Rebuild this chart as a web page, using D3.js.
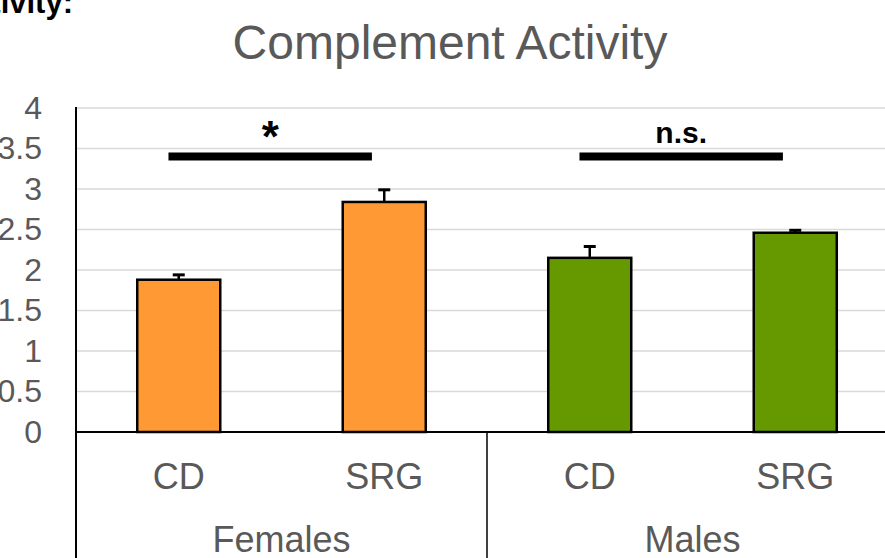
<!doctype html>
<html lang="en">
 <head>
   <meta charset="UTF-8">
   <title>Complement Activity</title>
   <script src="https://d3js.org/d3.v7.min.js"></script>
   <style>
     body { margin: 0; background: #fff; overflow: hidden; }
   </style>
 </head>
 <body>
   <div id="myDiv"></div>

 <script type="text/javascript">
   // chart data
   let categories = ["CD", "SRG", "CD", "SRG"];
   let groups = ["Females", "Males"];
   let values = [1.88, 2.84, 2.15, 2.46];
   let errors = [0.06, 0.15, 0.14, 0.03];
   let barColors = ["#FF9933", "#FF9933", "#669900", "#669900"];
   let yTicks = [0, 0.5, 1, 1.5, 2, 2.5, 3, 3.5, 4];
   // significance brackets: from / to in category index units, height in value units
   let sigFrom = [0.45, 2.45];
   let sigTo = [1.44, 3.44];
   let sigY = [3.4, 3.4];
   let sigLabels = ["*", "n.s."];

   let width = 885, height = 558;
   let font = "'Liberation Sans', Arial, sans-serif";

   let svg = d3.select("#myDiv").append("svg")
      .attr("width", width)
      .attr("height", height);

   // scales
   let x = d3.scaleLinear().domain([0, 4]).range([76, 898]);
   let y = d3.scaleLinear().domain([0, 4]).range([432, 108]);

   // cut-off text from the surrounding document
   svg.append("text")
      .attr("x", 73).attr("y", 13)
      .attr("text-anchor", "end")
      .attr("font-family", "'Liberation Sans Narrow', 'Liberation Sans', Arial, sans-serif")
      .attr("font-weight", "bold")
      .attr("font-size", "31px")
      .attr("fill", "#000")
      .text("Activity:");

   // title
   svg.append("text")
      .attr("x", 450).attr("y", 59)
      .attr("text-anchor", "middle")
      .attr("font-family", font)
      .attr("font-size", "48px")
      .attr("fill", "#595959")
      .text("Complement Activity");

   // gridlines
   svg.append("g").selectAll("line")
      .data(yTicks.filter(d => d > 0))
      .enter().append("line")
         .attr("x1", x(0)).attr("x2", width)
         .attr("y1", d => y(d)).attr("y2", d => y(d))
         .attr("stroke", "#d9d9d9")
         .attr("stroke-width", 1.5);

   // y axis
   let yAxis = d3.axisLeft(y).tickValues(yTicks).tickSize(0).tickPadding(34)
      .tickFormat(d3.format("~g"));
   let gy = svg.append("g")
      .attr("transform", "translate(" + x(0) + ",0)")
      .call(yAxis);
   gy.select(".domain").remove();
   gy.selectAll("text")
      .attr("font-family", font)
      .attr("font-size", "32px")
      .attr("fill", "#595959");

   // bars
   let barW = 0.404;
   svg.append("g").selectAll("rect")
      .data(values)
      .enter().append("rect")
         .attr("x", (d, i) => x(i + 0.5 - barW / 2))
         .attr("y", d => y(d))
         .attr("width", x(barW) - x(0))
         .attr("height", d => y(0) - y(d))
         .attr("fill", (d, i) => barColors[i])
         .attr("stroke", "#000")
         .attr("stroke-width", 2.5);

   // error bars
   let eb = svg.append("g").selectAll("g")
      .data(values)
      .enter().append("g");
   eb.append("line")
      .attr("x1", (d, i) => x(i + 0.5)).attr("x2", (d, i) => x(i + 0.5))
      .attr("y1", d => y(d)).attr("y2", (d, i) => y(d + errors[i]))
      .attr("stroke", "#000").attr("stroke-width", 2.5);
   eb.append("line")
      .attr("x1", (d, i) => x(i + 0.5) - 6).attr("x2", (d, i) => x(i + 0.5) + 6)
      .attr("y1", (d, i) => y(d + errors[i])).attr("y2", (d, i) => y(d + errors[i]))
      .attr("stroke", "#000").attr("stroke-width", 3);

   // significance bars
   svg.append("g").selectAll("line")
      .data(sigFrom)
      .enter().append("line")
         .attr("x1", d => x(d))
         .attr("x2", (d, i) => x(sigTo[i]))
         .attr("y1", (d, i) => y(sigY[i]))
         .attr("y2", (d, i) => y(sigY[i]))
         .attr("stroke", "#000")
         .attr("stroke-width", 8);
   svg.append("g").selectAll("text")
      .data(sigLabels)
      .enter().append("text")
         .attr("x", (d, i) => x((sigFrom[i] + sigTo[i]) / 2))
         .attr("y", (d, i) => d === "*" ? y(sigY[i]) - 5 : y(sigY[i]) - 14)
         .attr("text-anchor", "middle")
         .attr("font-family", font)
         .attr("font-weight", "bold")
         .attr("font-size", d => d === "*" ? "44px" : "30px")
         .attr("fill", "#000")
         .text(d => d);

   // category axis
   let axisG = svg.append("g").attr("stroke", "#000");
   axisG.append("line")
      .attr("x1", x(0)).attr("x2", width)
      .attr("y1", y(0)).attr("y2", y(0))
      .attr("stroke-width", 2);
   axisG.append("line")
      .attr("x1", x(0)).attr("x2", x(0))
      .attr("y1", y(4) - 1).attr("y2", height)
      .attr("stroke-width", 2);
   axisG.selectAll(".sep")
      .data(groups.slice(1))
      .enter().append("line")
         .attr("x1", (d, i) => x((i + 1) * 2)).attr("x2", (d, i) => x((i + 1) * 2))
         .attr("y1", y(0)).attr("y2", height)
         .attr("stroke-width", 1.5);

   svg.append("g").selectAll("text")
      .data(categories)
      .enter().append("text")
         .attr("x", (d, i) => x(i + 0.5))
         .attr("y", 489)
         .attr("text-anchor", "middle")
         .attr("font-family", font)
         .attr("font-size", "36px")
         .attr("fill", "#595959")
         .text(d => d);

   svg.append("g").selectAll("text")
      .data(groups)
      .enter().append("text")
         .attr("x", (d, i) => x(i * 2 + 1))
         .attr("y", 552)
         .attr("text-anchor", "middle")
         .attr("font-family", font)
         .attr("font-size", "36px")
         .attr("fill", "#595959")
         .text(d => d);
 </script>
</body>
</html>
